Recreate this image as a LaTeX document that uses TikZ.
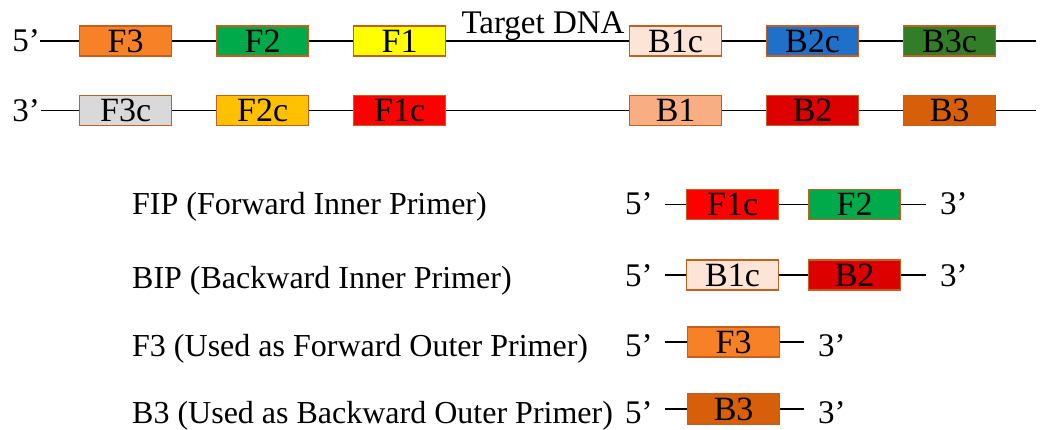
\documentclass[tikz,border=0pt]{standalone}
\usepackage{fontspec}
\setmainfont{Liberation Serif}
\definecolor{segedge}{RGB}{197,95,30}
\definecolor{cFthree}{RGB}{247,129,39}
\definecolor{cFtwo}{RGB}{0,170,75}
\definecolor{cFone}{RGB}{255,255,0}
\definecolor{cBonec}{RGB}{252,228,214}
\definecolor{cBtwoc}{RGB}{30,112,200}
\definecolor{cBthreec}{RGB}{50,125,40}
\definecolor{cFthreec}{RGB}{217,217,217}
\definecolor{cFtwoc}{RGB}{255,192,0}
\definecolor{cFonec}{RGB}{255,0,0}
\definecolor{cBone}{RGB}{248,174,130}
\definecolor{cBtwo}{RGB}{220,0,0}
\definecolor{cBthree}{RGB}{215,95,10}
\begin{document}
\begin{tikzpicture}[x=1pt,y=-1pt,
  seg/.style={draw=segedge, line width=1.2pt, minimum width=92pt,
    minimum height=30pt, inner sep=0pt, anchor=west,
    font=\fontsize{34}{34}\selectfont},
  lbl/.style={inner sep=0pt, font=\fontsize{32}{32}\selectfont},
  endlbl/.style={inner sep=0pt, font=\fontsize{33}{33}\selectfont},
  strand/.style={line width=1.5pt}]
\useasboundingbox (0,0) rectangle (1049,430);

% upper strand 5'->3'
\node[endlbl, anchor=base east] (t5) at (40,52) {5’};
\node[seg, fill=cFthree] (F3) at (79,41) {F3};
\node[seg, fill=cFtwo] (F2) at (216,41) {F2};
\node[seg, fill=cFone] (F1) at (353,41) {F1};
\node[seg, fill=cBonec] (B1c) at (629,41) {B1c};
\node[seg, fill=cBtwoc] (B2c) at (766,41) {B2c};
\node[seg, fill=cBthreec] (B3c) at (903,41) {B3c};
\coordinate (tend) at (1036,41);
\coordinate (tstart) at (40,41);
\draw[strand] (tstart) -- (F3) (F3) -- (F2) (F2) -- (F1) (F1) -- (B1c)
  (B1c) -- (B2c) (B2c) -- (B3c) (B3c) -- (tend);
\node[inner sep=0pt, anchor=base, font=\fontsize{33}{33}\selectfont] (tdna) at (543,34) {Target DNA};

% lower strand 3'->5'
\node[endlbl, anchor=base east] (b3) at (40,121.5) {3’};
\coordinate (bstart) at (41,110.5);
\node[seg, fill=cFthreec] (F3c) at (79,110.5) {F3c};
\node[seg, fill=cFtwoc] (F2c) at (216,110.5) {F2c};
\node[seg, fill=cFonec] (F1c) at (353,110.5) {F1c};
\node[seg, fill=cBone] (B1) at (629,110.5) {B1};
\node[seg, fill=cBtwo] (B2) at (766,110.5) {B2};
\node[seg, fill=cBthree] (B3) at (903,110.5) {B3};
\coordinate (bend) at (1036,110.5);
\draw[strand] (bstart) -- (F3c) (F3c) -- (F2c) (F2c) -- (F1c) (F1c) -- (B1)
  (B1) -- (B2) (B2) -- (B3) (B3) -- (bend);

% primer names
\node[lbl, anchor=base west] (nfip) at (132,215) {FIP (Forward Inner Primer)};
\node[lbl, anchor=base west] (nbip) at (132,288) {BIP (Backward Inner Primer)};
\node[lbl, anchor=base west] (nf3) at (132,356) {F3 (Used as Forward Outer Primer)};
\node[lbl, anchor=base west] (nb3) at (132,423) {B3 (Used as Backward Outer Primer)};

% FIP
\node[endlbl, anchor=base west] (fip5) at (625,215) {5’};
\coordinate (fipa) at (665,204.5);
\node[seg, fill=cFonec] (fipF1c) at (686,204.5) {F1c};
\node[seg, fill=cFtwo] (fipF2) at (808,204.5) {F2};
\coordinate (fipb) at (926,204.5);
\node[endlbl, anchor=base west] (fip3) at (940,215) {3’};
\draw[strand] (fipa) -- (fipF1c) (fipF1c) -- (fipF2) (fipF2) -- (fipb);

% BIP
\node[endlbl, anchor=base west] (bip5) at (625,287) {5’};
\coordinate (bipa) at (665,275);
\node[seg, fill=cBonec] (bipB1c) at (686,275) {B1c};
\node[seg, fill=cBtwo] (bipB2) at (808,275) {B2};
\coordinate (bipb) at (926,275);
\node[endlbl, anchor=base west] (bip3) at (940,287) {3’};
\draw[strand] (bipa) -- (bipB1c) (bipB1c) -- (bipB2) (bipB2) -- (bipb);

% F3 primer
\node[endlbl, anchor=base west] (pf5) at (625,356) {5’};
\coordinate (pfa) at (665,342);
\node[seg, fill=cFthree] (pfF3) at (687,342) {F3};
\coordinate (pfb) at (804,342);
\node[endlbl, anchor=base west] (pf3) at (818,356) {3’};
\draw[strand] (pfa) -- (pfF3) (pfF3) -- (pfb);

% B3 primer
\node[endlbl, anchor=base west] (pb5) at (625,423) {5’};
\coordinate (pba) at (665,409);
\node[seg, fill=cBthree] (pbB3) at (687,409) {B3};
\coordinate (pbb) at (804,409);
\node[endlbl, anchor=base west] (pb3) at (818,423) {3’};
\draw[strand] (pba) -- (pbB3) (pbB3) -- (pbb);
\end{tikzpicture}
\end{document}
